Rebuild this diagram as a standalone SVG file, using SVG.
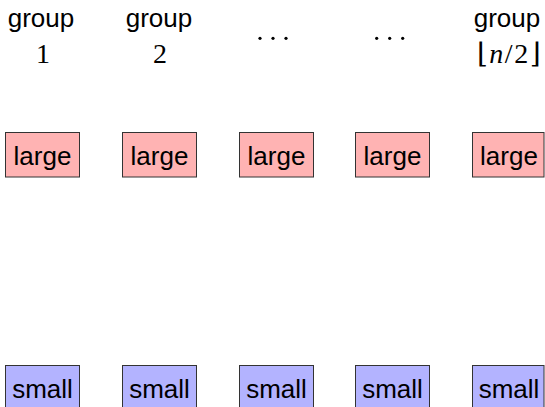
<svg xmlns="http://www.w3.org/2000/svg" width="545" height="407" viewBox="0 0 545 407">
<style>
.lbl{font-family:"Liberation Sans",Arial,sans-serif;font-size:26px;fill:#000;text-anchor:middle}
.num{font-family:"Liberation Serif","DejaVu Serif",serif;font-size:28px;fill:#000;text-anchor:middle}
.large{fill:#ffb3b3;stroke:#333;stroke-width:1}
.small{fill:#b3b3ff;stroke:#333;stroke-width:1}
</style>
<rect width="545" height="407" fill="#fff"/>
<g id="headers">
<g id="h1"><text class="lbl" x="41" y="27">group</text><text class="num" x="43" y="63">1</text></g>
<g id="h2"><text class="lbl" x="159" y="27">group</text><text class="num" x="160" y="63">2</text></g>
<g id="h3"><circle cx="260" cy="38.3" r="1.6"/><circle cx="273" cy="38.3" r="1.6"/><circle cx="286" cy="38.3" r="1.6"/></g>
<g id="h4"><circle cx="376.7" cy="38.3" r="1.6"/><circle cx="389.7" cy="38.3" r="1.6"/><circle cx="402.7" cy="38.3" r="1.6"/></g>
<g id="h5"><text class="lbl" x="507" y="27">group</text><text class="num" x="509.5" y="63" letter-spacing="1.5">⌊<tspan font-style="italic">n</tspan>/2⌋</text></g>
</g>
<g id="large1"><rect class="large" x="5.5" y="132.5" width="74" height="44.5"/><text class="lbl" x="42.5" y="165">large</text></g>
<g id="large2"><rect class="large" x="122.5" y="132.5" width="74" height="44.5"/><text class="lbl" x="159.5" y="165">large</text></g>
<g id="large3"><rect class="large" x="239.5" y="132.5" width="74" height="44.5"/><text class="lbl" x="276.5" y="165">large</text></g>
<g id="large4"><rect class="large" x="355.5" y="132.5" width="74" height="44.5"/><text class="lbl" x="392.5" y="165">large</text></g>
<g id="large5"><rect class="large" x="472.5" y="132.5" width="71.5" height="44.5"/><text class="lbl" x="509" y="165">large</text></g>
<g id="small1"><rect class="small" x="5.5" y="365.5" width="74" height="50"/><text class="lbl" x="42.5" y="397.5">small</text></g>
<g id="small2"><rect class="small" x="122.5" y="365.5" width="74" height="50"/><text class="lbl" x="159.5" y="397.5">small</text></g>
<g id="small3"><rect class="small" x="239.5" y="365.5" width="74" height="50"/><text class="lbl" x="276.5" y="397.5">small</text></g>
<g id="small4"><rect class="small" x="355.5" y="365.5" width="74" height="50"/><text class="lbl" x="392.5" y="397.5">small</text></g>
<g id="small5"><rect class="small" x="472.5" y="365.5" width="71.5" height="50"/><text class="lbl" x="509" y="397.5">small</text></g>
<g id="connectors"></g>
</svg>
